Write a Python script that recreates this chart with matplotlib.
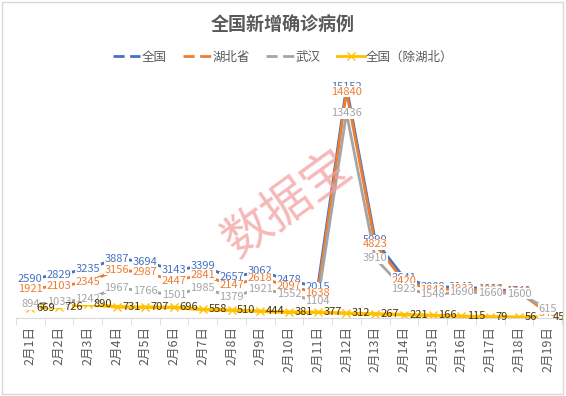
import matplotlib
matplotlib.use("Agg")
import matplotlib.pyplot as plt
from matplotlib.lines import Line2D
from matplotlib.patches import Rectangle
import numpy as np

plt.rcParams['font.family'] = ['Noto Sans CJK SC', 'DejaVu Sans']

dates = ["2月%d日" % d for d in range(1, 20)]
national = [2590, 2829, 3235, 3887, 3694, 3143, 3399, 2657, 3062, 2478, 2015,
            15152, 5090, 2641, 2009, 2048, 1886, 1749, 394]
hubei = [1921, 2103, 2345, 3156, 2987, 2447, 2841, 2147, 2618, 2097, 1638,
         14840, 4823, 2420, 1843, 1933, 1807, 1693, 349]
wuhan = [894, 1033, 1242, 1967, 1766, 1501, 1985, 1379, 1921, 1552, 1104,
         13436, 3910, 1923, 1548, 1690, 1660, 1600, 615]
outside = [669, 726, 890, 731, 707, 696, 558, 510, 444, 381, 377,
           312, 267, 221, 166, 115, 79, 56, 45]

c_blue = '#4472C4'
c_orange = '#ED7D31'
c_grey = '#A5A5A5'
c_yellow = '#FFC000'
c_text = '#595959'

fig = plt.figure(figsize=(5.66, 3.96), dpi=100)
fig.patches.append(Rectangle((0.004, 0.006), 0.99, 0.988, transform=fig.transFigure,
                             fill=False, edgecolor='#D9D9D9', linewidth=1))

ax = fig.add_axes([16 / 566, 78 / 396, 546 / 566, 244 / 396])
x = np.arange(len(dates))

for vals, col in [(national, c_blue), (hubei, c_orange), (wuhan, c_grey)]:
    ax.plot(x, vals, color=col, linewidth=2, zorder=2)
ax.plot(x, outside, color=c_yellow, linewidth=2.5, marker='x', markersize=6,
        markeredgewidth=1, zorder=2)

for vals, col in [(national, c_blue), (hubei, c_orange), (wuhan, c_grey)]:
    for xi, v in zip(x, vals):
        ax.text(xi, v, str(v), color=col, fontsize=8, ha='center', va='center', zorder=4,
                bbox=dict(facecolor='white', edgecolor='none', pad=0.3))
for xi, v in zip(x, outside):
    ax.annotate(str(v), (xi, v), xytext=(4, 0), textcoords='offset points',
                color='#4A3300', fontsize=8, ha='left', va='center', zorder=5)

ax.set_xlim(-0.5, len(dates) - 0.5)
ax.set_ylim(0, 16000)
for s in ['top', 'right', 'left']:
    ax.spines[s].set_visible(False)
ax.spines['bottom'].set_color('#D9D9D9')
ax.set_yticks([])
ax.set_xticks(x)
ax.set_xticklabels(dates, rotation=90, va='top', color=c_text, fontsize=9)
ax.tick_params(axis='x', which='major', length=0, pad=6)
ax.set_xticks(np.arange(-0.5, len(dates), 1), minor=True)
ax.tick_params(axis='x', which='minor', length=5, color='#D9D9D9')

fig.text(0.5, 1 - 25 / 396, "全国新增确诊病例", ha='center', va='center',
         fontsize=13, fontweight='bold', color=c_text)

handles = [Line2D([], [], color=c_blue, linewidth=2, linestyle=(0, (4, 2))),
           Line2D([], [], color=c_orange, linewidth=2, linestyle=(0, (4, 2))),
           Line2D([], [], color=c_grey, linewidth=2, linestyle=(0, (4, 2))),
           Line2D([], [], color=c_yellow, linewidth=2, marker='x', markersize=6)]
leg = fig.legend(handles, ["全国", "湖北省", "武汉", "全国（除湖北）"], loc='center',
                 bbox_to_anchor=(0.5, 1 - 57 / 396), ncol=4, frameon=False, fontsize=9,
                 handlelength=2.2, handletextpad=0.1, columnspacing=1.35)
for t in leg.get_texts():
    t.set_color(c_text)

fig.text(288 / 566, 1 - 205 / 396, "数据宝", ha='center', va='center', rotation=36,
         fontsize=35, color='#F4A0A0', alpha=0.75, zorder=10)

fig.savefig("out.png", dpi=100)
